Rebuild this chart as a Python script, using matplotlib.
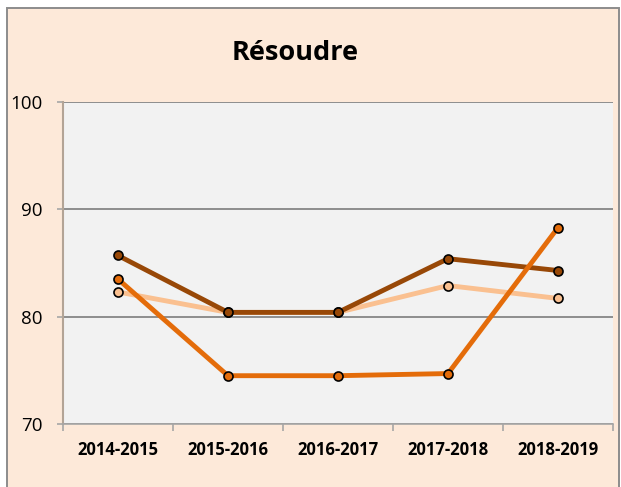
import matplotlib
matplotlib.use("Agg")
import matplotlib.pyplot as plt
from matplotlib.patches import Rectangle

years = ["2014-2015", "2015-2016", "2016-2017", "2017-2018", "2018-2019"]
peach = [82.3, 80.4, 80.4, 82.9, 81.7]
brown = [85.7, 80.4, 80.4, 85.4, 84.3]
orange = [83.5, 74.5, 74.5, 74.7, 88.3]

W, H = 621, 487
fig = plt.figure(figsize=(W / 100, H / 100), dpi=100)
fig.patch.set_facecolor("white")

# outer chart frame
frame = Rectangle((7 / W, -0.01), 612 / W, 1 - 8 / H + 0.01,
                  transform=fig.transFigure, facecolor="#FDE9D9",
                  edgecolor="#8C8C8C", linewidth=1.4, zorder=-10)
fig.add_artist(frame)

ax = fig.add_axes([63 / W, 1 - 424 / H, 550 / W, 322 / H])
ax.set_facecolor("#F2F2F2")

x = list(range(len(years)))
series = [(peach, "#FAC090"), (brown, "#984807"), (orange, "#E46C0A")]
for vals, col in series:
    ax.plot(x, vals, color=col, lw=3.5, marker="o", ms=6.5,
            mfc=col, mec="black", mew=1.2, zorder=3, solid_capstyle="butt")

ax.set_xlim(-0.5, len(years) - 0.5)
ax.set_ylim(70, 100)
ax.set_yticks([70, 80, 90, 100])
ax.set_yticklabels(["70", "80", "90", "100"], fontsize=13.5, family="Open Sans")
ax.yaxis.grid(True, color="#868686", lw=1.3)
ax.set_axisbelow(True)

ax.set_xticks(x)
ax.set_xticklabels(years, fontsize=12, fontweight="bold", family="Open Sans")
ax.set_xticks([i - 0.5 for i in range(len(years) + 1)], minor=True)
ax.tick_params(axis="x", which="major", length=0, pad=12)
ax.tick_params(axis="x", which="minor", length=5, color="#A6A6A6", width=1.2)
ax.tick_params(axis="y", length=4.5, color="#A6A6A6", width=1.2, pad=10)

for s in ["top", "right"]:
    ax.spines[s].set_visible(False)
ax.spines["left"].set_color("#B3A496")
ax.spines["left"].set_linewidth(1.5)
ax.spines["bottom"].set_color("#A6A6A6")
ax.spines["bottom"].set_linewidth(1.2)

fig.text(295 / W, 1 - 53 / H, "Résoudre", ha="center", va="center",
         fontsize=19.5, fontweight="bold", family="Open Sans")

fig.savefig("out.png", dpi=100)
